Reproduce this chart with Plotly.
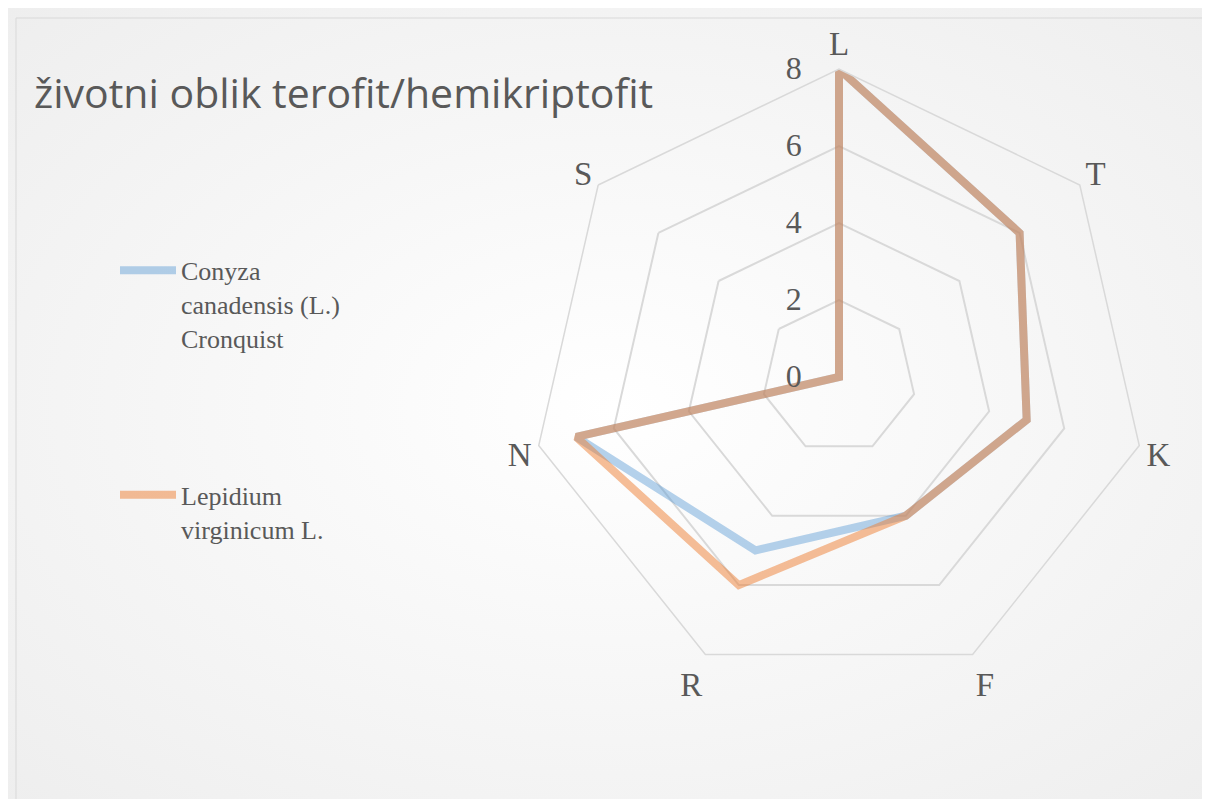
import plotly.graph_objects as go

categories = ["L", "T", "K", "F", "R", "N", "S"]
conyza = [8, 6, 5, 4, 5, 7, 0]
lepidium = [8, 6, 5, 4, 6, 7, 0]
series_names = ["Conyza<br>canadensis (L.)<br>Cronquist", "Lepidium<br>virginicum L."]
radial_ticks = [0, 2, 4, 6, 8]
title_text = "životni oblik terofit/hemikriptofit"

W, H = 1210, 799
cx, cy, R = 831, 369, 308
pad = "\u00a0" * 4

fig = go.Figure()
fig.add_trace(go.Scatterpolar(
    r=conyza + conyza[:1], theta=categories + categories[:1],
    mode="lines", name=series_names[0], legendgroup="a",
    line=dict(color="rgba(91,155,213,0.45)", width=8),
))
fig.add_trace(go.Scatterpolar(
    r=lepidium + lepidium[:1], theta=categories + categories[:1],
    mode="lines", name=series_names[1], legendgroup="b",
    line=dict(color="rgba(237,125,49,0.5)", width=8),
))

grad_svg = (
    "data:image/svg+xml;utf8,<svg xmlns='http://www.w3.org/2000/svg' width='1210' height='799'>"
    "<defs><radialGradient id='g' cx='50%' cy='50%' r='75%'>"
    "<stop offset='0%' stop-color='white'/><stop offset='100%' stop-color='%23ededed'/>"
    "</radialGradient></defs><rect width='1210' height='799' fill='url(%23g)'/></svg>"
)

fig.update_layout(
    width=W, height=H,
    margin=dict(l=0, r=0, t=0, b=0),
    paper_bgcolor="white",
    images=[dict(source=grad_svg, xref="paper", yref="paper", x=0, y=1,
                 sizex=1, sizey=1, xanchor="left", yanchor="top",
                 sizing="stretch", layer="below")],
    polar=dict(
        domain=dict(x=[(cx - R) / W, (cx + R) / W], y=[(H - cy - R) / H, (H - cy + R) / H]),
        bgcolor="rgba(0,0,0,0)",
        gridshape="linear",
        angularaxis=dict(
            direction="clockwise", rotation=90,
            showgrid=False, showline=True, linecolor="#d9d9d9", linewidth=1.5,
            ticks="", tickfont=dict(family="Liberation Serif", size=33, color="#595959"),
        ),
        radialaxis=dict(
            range=[0, 8], tickvals=radial_ticks,
            ticktext=[f"{v}{pad}" for v in radial_ticks],
            angle=90, tickangle=90,
            showline=False, ticks="", side="counterclockwise",
            gridcolor="#d9d9d9", gridwidth=1.5,
            tickfont=dict(family="Liberation Serif", size=32, color="#595959"),
        ),
    ),
    legend=dict(x=107 / W, y=0.701, xanchor="left", yanchor="top", valign="top",
                bgcolor="rgba(0,0,0,0)", tracegroupgap=120, itemwidth=56,
                font=dict(family="Liberation Serif", size=26, color="#595959")),
    annotations=[dict(text=title_text, xref="paper", yref="paper", x=24 / W, y=1 - 84 / H,
                      xanchor="left", yanchor="middle", showarrow=False,
                      font=dict(family="Open Sans", size=41, color="#595959"))],
    shapes=[dict(type="rect", xref="paper", yref="paper", x0=8 / W, x1=1, y0=0, y1=1 - 10 / H,
                 line=dict(color="#d9d9d9", width=1))],
)

fig.write_html("out.html")
